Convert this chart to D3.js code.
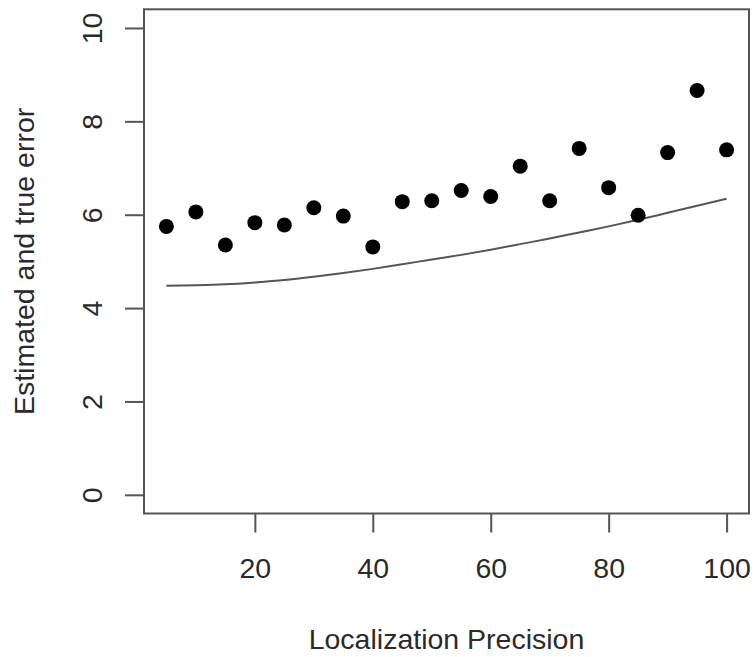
<!DOCTYPE html>
<html>
<head>
<meta charset="utf-8">
<script src="https://cdn.jsdelivr.net/npm/d3@7"></script>
<style>
  body { margin: 0; background: #fff; }
  text { font-family: "Liberation Sans", Arial, sans-serif; }
</style>
</head>
<body>
<div id="chart"></div>
<script>
// estimated error (points)
var precision = [5, 10, 15, 20, 25, 30, 35, 40, 45, 50, 55, 60, 65, 70, 75, 80, 85, 90, 95, 100];
var estimated = [5.75, 6.06, 5.35, 5.83, 5.78, 6.15, 5.97, 5.31, 6.28, 6.30,
                 6.52, 6.39, 7.04, 6.30, 7.42, 6.58, 5.99, 7.33, 8.66, 7.39];
// true error (curve)
var trueError = [4.48, 4.49, 4.51, 4.55, 4.60, 4.67, 4.75, 4.84, 4.94, 5.04,
                 5.14, 5.25, 5.37, 5.49, 5.62, 5.75, 5.89, 6.04, 6.19, 6.34];
var xTicks = [20, 40, 60, 80, 100];
var yTicks = [0, 2, 4, 6, 8, 10];

function chart() {
    var W = 754, H = 657;
    var margin = { top: 9.3, right: 5, bottom: 143.5, left: 144 };
    var w = W - margin.left - margin.right;
    var h = H - margin.top - margin.bottom;
    var fontSize = "28.5px";

    var svg = d3.select("#chart")
        .append("svg")
        .attr("width", W)
        .attr("height", H);

    var g = svg.append("g")
        .attr("transform", "translate(" + margin.left + "," + margin.top + ")");

    // R pads the data range by 4% on each side
    var xScale = d3.scaleLinear().domain([1.2, 103.8]).range([0, w]);
    var yScale = d3.scaleLinear().domain([-0.4, 10.4]).range([h, 0]);

    var tickColor = "#555";
    var labelColor = "#2a2a2a";

    // X axis
    var xAxis = g.append("g")
        .attr("transform", "translate(0," + h + ")")
        .call(d3.axisBottom(xScale).tickValues(xTicks).tickSize(19).tickSizeOuter(0));
    xAxis.select(".domain").remove();
    xAxis.selectAll("line").style("stroke", tickColor).style("stroke-width", 2);
    xAxis.selectAll("text")
        .attr("y", 64.5)
        .attr("dy", null)
        .style("font-size", fontSize)
        .style("fill", labelColor);

    // Y axis, labels turned like R's default
    var yAxis = g.append("g")
        .call(d3.axisLeft(yScale).tickValues(yTicks).tickSize(19).tickSizeOuter(0));
    yAxis.select(".domain").remove();
    yAxis.selectAll("line").style("stroke", tickColor).style("stroke-width", 2);
    yAxis.selectAll("text")
        .attr("x", 0)
        .attr("dy", null)
        .attr("text-anchor", "middle")
        .attr("transform", "translate(-42,0) rotate(-90)")
        .style("font-size", fontSize)
        .style("fill", labelColor);

    // box
    g.append("rect")
        .attr("x", 0)
        .attr("y", 0)
        .attr("width", w)
        .attr("height", h)
        .style("fill", "none")
        .style("stroke", tickColor)
        .style("stroke-width", 2);

    // true error curve
    var line = d3.line()
        .x(function(d, i) { return xScale(precision[i]); })
        .y(function(d) { return yScale(d); })
        .curve(d3.curveMonotoneX);

    g.append("path")
        .datum(trueError)
        .attr("d", line)
        .style("fill", "none")
        .style("stroke", "#555")
        .style("stroke-width", 2);

    // estimated error points
    g.selectAll("circle")
        .data(estimated)
        .enter()
        .append("circle")
        .attr("cx", function(d, i) { return xScale(precision[i]); })
        .attr("cy", function(d) { return yScale(d); })
        .attr("r", 7.5)
        .style("fill", "#000");

    // axis titles
    svg.append("text")
        .attr("x", margin.left + w / 2)
        .attr("y", 649)
        .attr("text-anchor", "middle")
        .style("font-size", fontSize)
        .style("fill", labelColor)
        .text("Localization Precision");

    svg.append("text")
        .attr("transform", "translate(34," + (margin.top + h / 2) + ") rotate(-90)")
        .attr("text-anchor", "middle")
        .style("font-size", fontSize)
        .style("fill", labelColor)
        .text("Estimated and true error");
}

chart();
</script>
</body>
</html>
